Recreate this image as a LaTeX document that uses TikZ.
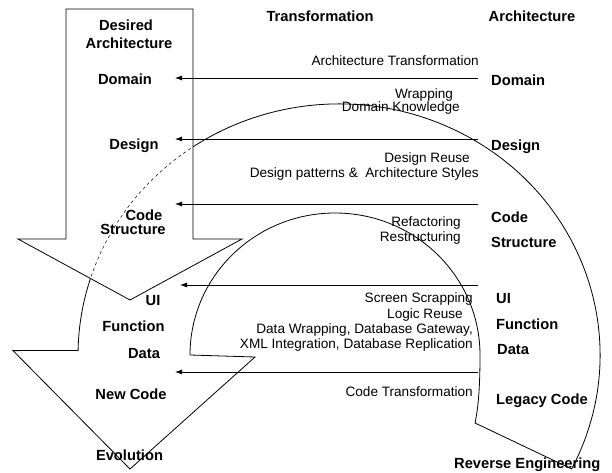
\documentclass[tikz,border=0pt]{standalone}
\usepackage{fontspec}
\setmainfont{Liberation Sans}
\usetikzlibrary{arrows.meta}

\begin{document}
\begin{tikzpicture}[x=1pt, y=1pt,
        every node/.style={inner sep=0pt, text height=10pt, text depth=0pt},
        lbl/.style={font=\fontsize{14.7}{16}\selectfont\bfseries},
        note/.style={font=\fontsize{13.6}{15}\selectfont, anchor=east},
        flow/.style={-{Latex[length=7pt, width=5pt]}, line width=0.8pt},
        band/.style={line width=0.8pt, line join=miter}]
        \useasboundingbox (0,0) rectangle (612,472);

        \coordinate (oc) at (339,117);
        \coordinate (ic) at (335,117);
        \coordinate (tail) at (571.6,3.1);
        \coordinate (flareL) at (13,121.4);
        \coordinate (evotip) at (130,3);
        \coordinate (flareR) at (255,115);
        \coordinate (inL) at (190,117);
        \coordinate (inend) at (475,49);

        % Reverse engineering / evolution band
        \draw[band] (tail) arc[start angle=-27, end angle=179, x radius=261pt, y radius=251pt]
            -- (flareL) -- (evotip) -- (flareR) -- (inL)
            arc[start angle=180, end angle=0, x radius=145pt, y radius=142pt]
            .. controls (480,82) and (478,63) .. (inend) -- cycle;

        % Desired architecture arrow
        \draw[band, fill=white] (66,463) -- (193,463) -- (193,233) -- (242,233)
            -- (130,172) -- (18,233) -- (66,233) -- cycle;
        \begin{scope}
            \clip (66,463) -- (193,463) -- (193,233) -- (242,233)
                -- (130,172) -- (18,233) -- (66,233) -- cycle;
            \draw[dashed, line width=0.5pt] (tail) arc[start angle=-27, end angle=179, x radius=261pt, y radius=251pt];
        \end{scope}

        % Headings
        \node[lbl] (trans) at (320,455) {Transformation};
        \node[lbl] (arch) at (532,455) {Architecture};

        % Desired column
        \node[lbl] (desired) at (126,446) {Desired};
        \node[lbl] (desarch) at (129,428) {Architecture};
        \node[lbl] (ldomain) at (125,392) {Domain};
        \node[lbl] (ldesign) at (134,328) {Design};
        \node[lbl] (lcode) at (144,257) {Code};
        \node[lbl] (lstruct) at (133,243) {Structure};
        \node[lbl] (lui) at (153,172) {UI};
        \node[lbl] (lfunc) at (133.5,146) {Function};
        \node[lbl] (ldata) at (144,119) {Data};
        \node[lbl] (newcode) at (131,78) {New Code};
        \node[lbl] (evo) at (129.5,17) {Evolution};

        % Legacy column
        \node[lbl, anchor=west] (rdomain) at (491,391) {Domain};
        \node[lbl, anchor=west] (rdesign) at (491,327) {Design};
        \node[lbl, anchor=west] (rcode) at (491,255) {Code};
        \node[lbl, anchor=west] (rstruct) at (491,230) {Structure};
        \node[lbl, anchor=west] (rui) at (496,174) {UI};
        \node[lbl, anchor=west] (rfunc) at (496,148) {Function};
        \node[lbl, anchor=west] (rdata) at (497,123) {Data};
        \node[lbl, anchor=west] (legacy) at (496,73) {Legacy Code};
        \node[lbl, anchor=west] (reverse) at (454,9) {Reverse Engineering};

        % Transformations
        \node[note] (t1) at (479,411) {Architecture Transformation};
        \node[note, anchor=center] (t2a) at (424,378) {Wrapping};
        \node[note] (t2b) at (460,365) {Domain Knowledge};
        \node[note] (t3a) at (470,314.5) {Design Reuse};
        \node[note] (t3b) at (479,300) {Design patterns \& \ Architecture Styles};
        \node[note] (t4a) at (461,251) {Refactoring};
        \node[note] (t4b) at (461,236) {Restructuring};
        \node[note] (t5a) at (473,174.5) {Screen Scrapping};
        \node[note] (t5b) at (463,159) {Logic Reuse};
        \node[note] (t5c) at (473,144) {Data Wrapping, Database Gateway,};
        \node[note] (t5d) at (473,129) {XML Integration, Database Replication};
        \node[note] (t6) at (473,81) {Code Transformation};

        % Level arrows
        \coordinate (domR) at (478,394);  \coordinate (domL) at (175,394);
        \coordinate (desR) at (478,333);  \coordinate (desL) at (175,333);
        \coordinate (codeR) at (478,268); \coordinate (codeL) at (175,268);
        \coordinate (uiR) at (478,187);   \coordinate (uiL) at (180,187);
        \coordinate (newR) at (478,100);  \coordinate (newL) at (175,100);

        \draw[flow] (domR) -- (domL);
        \draw[flow] (desR) -- (desL);
        \draw[flow] (codeR) -- (codeL);
        \draw[flow] (uiR) -- (uiL);
        \draw[flow] (newR) -- (newL);
    \end{tikzpicture}
\end{document}
